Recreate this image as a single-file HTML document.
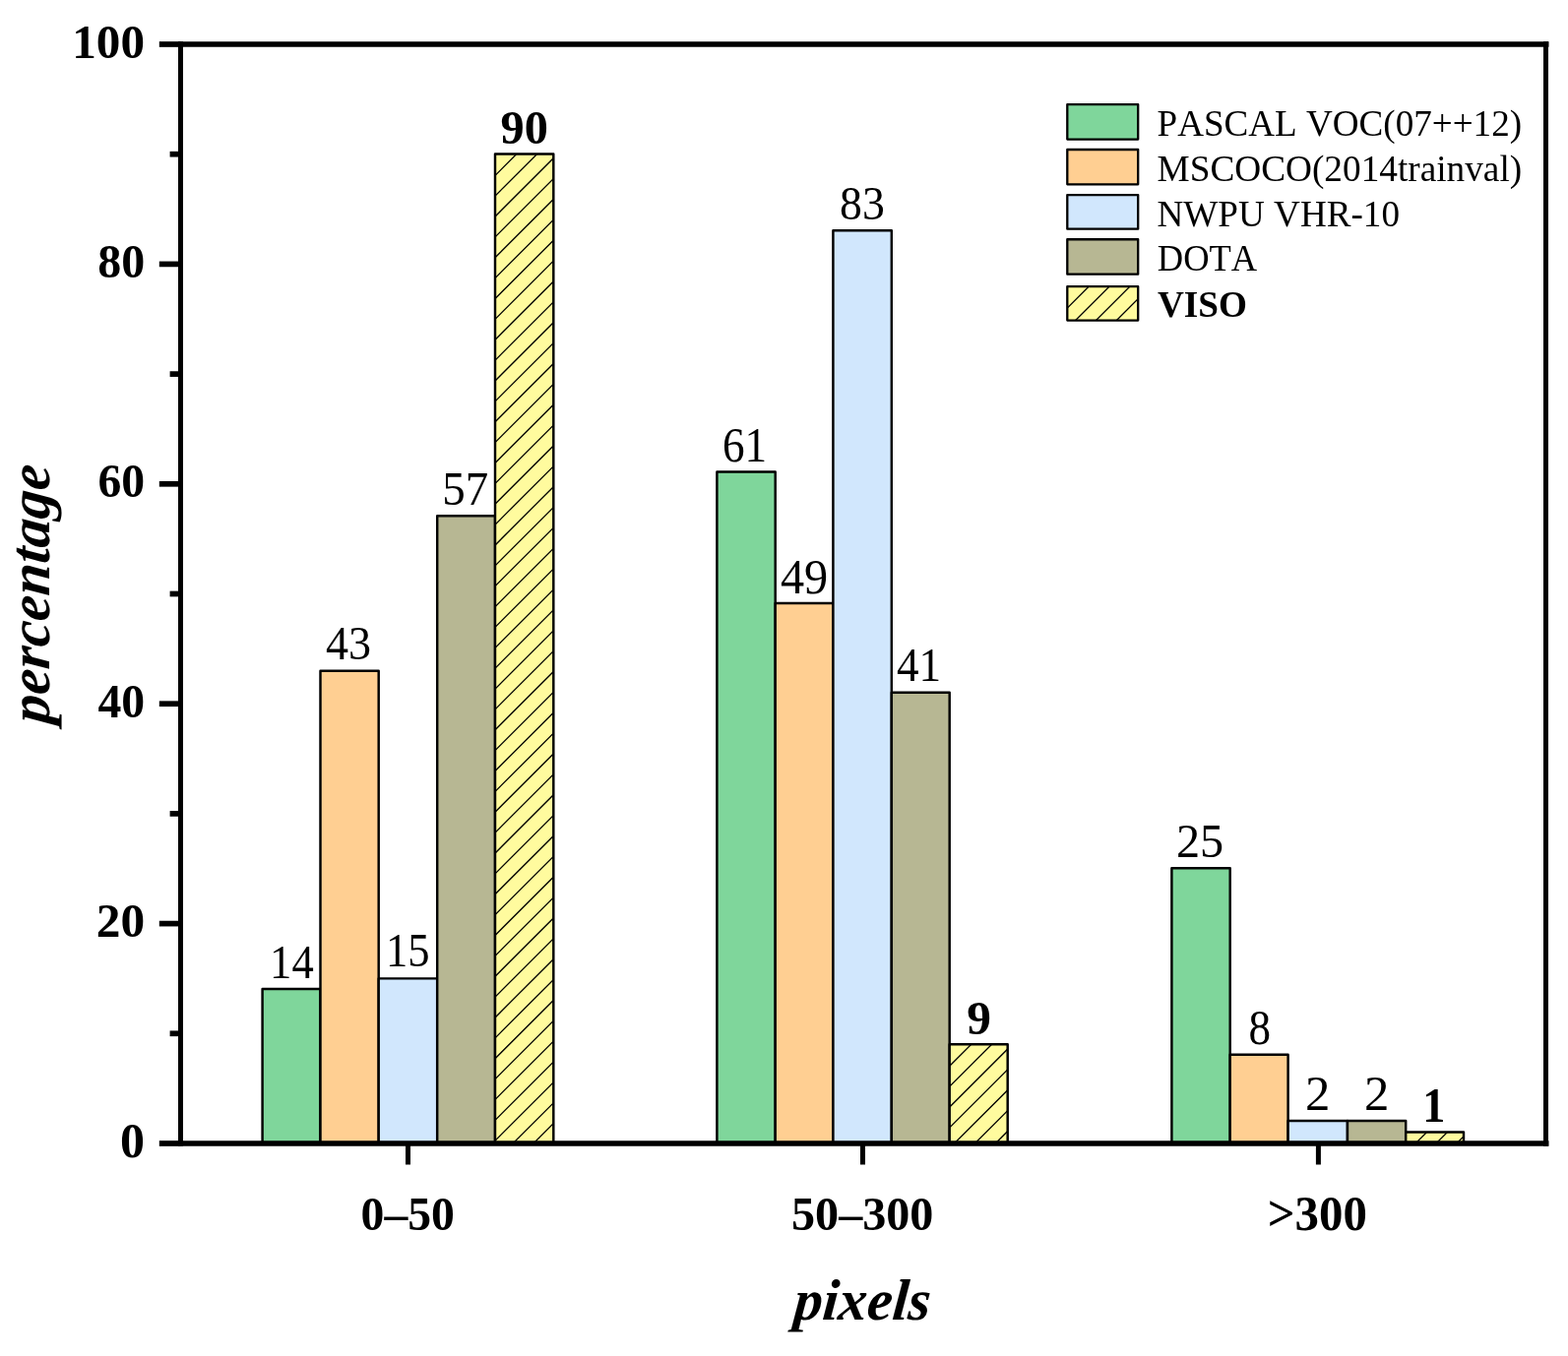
<!DOCTYPE html>
<html lang="en"><head><meta charset="utf-8"><title>Object size distribution</title>
<style>html,body{margin:0;padding:0;background:#fff}body{width:1593px;height:1378px;overflow:hidden}figure{margin:0;padding:0;width:1593px;height:1378px}svg{display:block}text{font-family:"Liberation Serif",serif;fill:#000;font-kerning:none}.b{font-weight:bold}.bi{font-weight:bold;font-style:italic}</style>
</head><body>
<figure>
<svg width="1593" height="1378" viewBox="0 0 1593 1378">
<rect width="1593" height="1378" fill="#fff"/>
<rect x="266.60" y="1004.97" width="58.90" height="157.03" fill="#7fd69b" stroke="#000" stroke-width="2.45" stroke-linejoin="round"/>
<rect x="325.50" y="681.80" width="59.20" height="480.20" fill="#ffcf92" stroke="#000" stroke-width="2.45" stroke-linejoin="round"/>
<rect x="384.70" y="994.35" width="59.50" height="167.65" fill="#d1e7fd" stroke="#000" stroke-width="2.45" stroke-linejoin="round"/>
<rect x="444.20" y="524.32" width="58.80" height="637.68" fill="#b7b793" stroke="#000" stroke-width="2.45" stroke-linejoin="round"/>
<clipPath id="hp1"><rect x="503.00" y="156.46" width="59.30" height="1005.54"/></clipPath>
<rect x="503.00" y="156.46" width="59.30" height="1005.54" fill="#fffb9e"/>
<path clip-path="url(#hp1)" d="M501.00,138.56L564.30,75.26M501.00,159.43L564.30,96.13M501.00,180.30L564.30,117.00M501.00,201.17L564.30,137.87M501.00,222.04L564.30,158.74M501.00,242.91L564.30,179.61M501.00,263.78L564.30,200.48M501.00,284.65L564.30,221.35M501.00,305.52L564.30,242.22M501.00,326.39L564.30,263.09M501.00,347.26L564.30,283.96M501.00,368.13L564.30,304.83M501.00,389.00L564.30,325.70M501.00,409.87L564.30,346.57M501.00,430.74L564.30,367.44M501.00,451.61L564.30,388.31M501.00,472.48L564.30,409.18M501.00,493.35L564.30,430.05M501.00,514.22L564.30,450.92M501.00,535.09L564.30,471.79M501.00,555.96L564.30,492.66M501.00,576.83L564.30,513.53M501.00,597.70L564.30,534.40M501.00,618.57L564.30,555.27M501.00,639.44L564.30,576.14M501.00,660.31L564.30,597.01M501.00,681.18L564.30,617.88M501.00,702.05L564.30,638.75M501.00,722.92L564.30,659.62M501.00,743.79L564.30,680.49M501.00,764.66L564.30,701.36M501.00,785.53L564.30,722.23M501.00,806.40L564.30,743.10M501.00,827.27L564.30,763.97M501.00,848.14L564.30,784.84M501.00,869.01L564.30,805.71M501.00,889.88L564.30,826.58M501.00,910.75L564.30,847.45M501.00,931.62L564.30,868.32M501.00,952.49L564.30,889.19M501.00,973.36L564.30,910.06M501.00,994.23L564.30,930.93M501.00,1015.10L564.30,951.80M501.00,1035.97L564.30,972.67M501.00,1056.84L564.30,993.54M501.00,1077.71L564.30,1014.41M501.00,1098.58L564.30,1035.28M501.00,1119.45L564.30,1056.15M501.00,1140.32L564.30,1077.02M501.00,1161.19L564.30,1097.89M501.00,1182.06L564.30,1118.76M501.00,1202.93L564.30,1139.63M501.00,1223.80L564.30,1160.50" stroke="#000" stroke-width="1.3" fill="none"/>
<rect x="503.00" y="156.46" width="59.30" height="1005.54" fill="none" stroke="#000" stroke-width="2.45" stroke-linejoin="round"/>
<rect x="728.40" y="479.51" width="59.30" height="682.49" fill="#7fd69b" stroke="#000" stroke-width="2.45" stroke-linejoin="round"/>
<rect x="787.70" y="612.99" width="58.70" height="549.01" fill="#ffcf92" stroke="#000" stroke-width="2.45" stroke-linejoin="round"/>
<rect x="846.40" y="234.20" width="59.40" height="927.80" fill="#d1e7fd" stroke="#000" stroke-width="2.45" stroke-linejoin="round"/>
<rect x="905.80" y="703.77" width="58.90" height="458.23" fill="#b7b793" stroke="#000" stroke-width="2.45" stroke-linejoin="round"/>
<clipPath id="hp2"><rect x="964.70" y="1061.30" width="59.00" height="100.70"/></clipPath>
<rect x="964.70" y="1061.30" width="59.00" height="100.70" fill="#fffb9e"/>
<path clip-path="url(#hp2)" d="M962.70,1043.56L1025.70,980.56M962.70,1064.43L1025.70,1001.43M962.70,1085.30L1025.70,1022.30M962.70,1106.17L1025.70,1043.17M962.70,1127.04L1025.70,1064.04M962.70,1147.91L1025.70,1084.91M962.70,1168.78L1025.70,1105.78M962.70,1189.65L1025.70,1126.65M962.70,1210.52L1025.70,1147.52M962.70,1231.39L1025.70,1168.39" stroke="#000" stroke-width="1.3" fill="none"/>
<rect x="964.70" y="1061.30" width="59.00" height="100.70" fill="none" stroke="#000" stroke-width="2.45" stroke-linejoin="round"/>
<rect x="1190.40" y="882.19" width="59.30" height="279.81" fill="#7fd69b" stroke="#000" stroke-width="2.45" stroke-linejoin="round"/>
<rect x="1249.70" y="1071.81" width="58.90" height="90.19" fill="#ffcf92" stroke="#000" stroke-width="2.45" stroke-linejoin="round"/>
<rect x="1308.60" y="1138.91" width="60.35" height="23.09" fill="#d1e7fd" stroke="#000" stroke-width="2.45" stroke-linejoin="round"/>
<rect x="1368.95" y="1139.00" width="59.25" height="23.00" fill="#b7b793" stroke="#000" stroke-width="2.45" stroke-linejoin="round"/>
<clipPath id="hp3"><rect x="1428.20" y="1150.44" width="58.80" height="11.56"/></clipPath>
<rect x="1428.20" y="1150.44" width="58.80" height="11.56" fill="#fffb9e"/>
<path clip-path="url(#hp3)" d="M1426.20,1132.13L1489.00,1069.33M1426.20,1153.00L1489.00,1090.20M1426.20,1173.87L1489.00,1111.07M1426.20,1194.74L1489.00,1131.94M1426.20,1215.61L1489.00,1152.81M1426.20,1236.48L1489.00,1173.68" stroke="#000" stroke-width="1.3" fill="none"/>
<rect x="1428.20" y="1150.44" width="58.80" height="11.56" fill="none" stroke="#000" stroke-width="2.45" stroke-linejoin="round"/>
<text id="d00" transform="translate(296.38,993.85) scale(0.9089,1)" font-size="49.11" text-anchor="middle">14</text>
<text id="d01" transform="translate(354.07,669.89) scale(0.9347,1)" font-size="49.31" text-anchor="middle">43</text>
<text id="d02" transform="translate(414.34,982.45) scale(0.9076,1)" font-size="49.14" text-anchor="middle">15</text>
<text id="d03" transform="translate(472.72,512.83) scale(0.9548,1)" font-size="49.15" text-anchor="middle">57</text>
<text id="d04" class="b" transform="translate(532.76,146.33) scale(0.9794,1)" font-size="49.38" text-anchor="middle">90</text>
<text id="d10" transform="translate(756.62,468.91) scale(0.886,1)" font-size="50.99" text-anchor="middle">61</text>
<text id="d11" transform="translate(817.04,602.54) scale(0.9667,1)" font-size="49.91" text-anchor="middle">49</text>
<text id="d12" transform="translate(875.99,223.10) scale(0.925,1)" font-size="49.49" text-anchor="middle">83</text>
<text id="d13" transform="translate(933.57,692.20) scale(0.9139,1)" font-size="49.47" text-anchor="middle">41</text>
<text id="d14" class="b" transform="translate(994.58,1050.65) scale(1.0015,1)" font-size="49.38" text-anchor="middle">9</text>
<text id="d20" transform="translate(1219.03,870.54) scale(0.9911,1)" font-size="48.72" text-anchor="middle">25</text>
<text id="d21" transform="translate(1279.66,1061.02) scale(0.9032,1)" font-size="49.85" text-anchor="middle">8</text>
<text id="d22" transform="translate(1338.77,1128.17) scale(1.02,1)" font-size="49.83" text-anchor="middle">2</text>
<text id="d23" transform="translate(1398.59,1128.01) scale(1.02,1)" font-size="49.83" text-anchor="middle">2</text>
<text id="d24" class="b" transform="translate(1456.70,1139.84) scale(0.9209,1)" font-size="50.14" text-anchor="middle">1</text>
<g stroke="#000" fill="none">
<line x1="183.50" y1="42.15" x2="183.50" y2="1164.85" stroke-width="5.0"/>
<line x1="1570.50" y1="42.15" x2="1570.50" y2="1164.85" stroke-width="5.0"/>
<line x1="181.00" y1="45.00" x2="1573.50" y2="45.00" stroke-width="5.7"/>
<line x1="181.00" y1="1162.00" x2="1573.50" y2="1162.00" stroke-width="5.7"/>
<line x1="161.8" y1="1162.00" x2="183.50" y2="1162.00" stroke-width="5.7"/>
<line x1="172.6" y1="1050.30" x2="183.50" y2="1050.30" stroke-width="5.7"/>
<line x1="161.8" y1="938.60" x2="183.50" y2="938.60" stroke-width="5.7"/>
<line x1="172.6" y1="826.90" x2="183.50" y2="826.90" stroke-width="5.7"/>
<line x1="161.8" y1="715.20" x2="183.50" y2="715.20" stroke-width="5.7"/>
<line x1="172.6" y1="603.50" x2="183.50" y2="603.50" stroke-width="5.7"/>
<line x1="161.8" y1="491.80" x2="183.50" y2="491.80" stroke-width="5.7"/>
<line x1="172.6" y1="380.10" x2="183.50" y2="380.10" stroke-width="5.7"/>
<line x1="161.8" y1="268.40" x2="183.50" y2="268.40" stroke-width="5.7"/>
<line x1="172.6" y1="156.70" x2="183.50" y2="156.70" stroke-width="5.7"/>
<line x1="161.8" y1="45.00" x2="183.50" y2="45.00" stroke-width="5.7"/>
<line x1="414.50" y1="1162.00" x2="414.50" y2="1183.5" stroke-width="5.0"/>
<line x1="876.50" y1="1162.00" x2="876.50" y2="1183.5" stroke-width="5.0"/>
<line x1="1339.40" y1="1162.00" x2="1339.40" y2="1183.5" stroke-width="5.0"/>
</g>
<text id="t0" class="b" transform="translate(147.08,1176.47) scale(0.9944,1)" font-size="50.29" text-anchor="end">0</text>
<text id="t20" class="b" transform="translate(147.11,952.32) scale(1.0117,1)" font-size="48.79" text-anchor="end">20</text>
<text id="t40" class="b" transform="translate(147.11,728.92) scale(0.9923,1)" font-size="48.1" text-anchor="end">40</text>
<text id="t60" class="b" transform="translate(147.11,505.13) scale(0.9697,1)" font-size="49.21" text-anchor="end">60</text>
<text id="t80" class="b" transform="translate(147.24,281.62) scale(0.9821,1)" font-size="48.85" text-anchor="end">80</text>
<text id="t100" class="b" transform="translate(146.99,58.69) scale(0.9981,1)" font-size="49.26" text-anchor="end">100</text>
<text id="c0" class="b" transform="translate(414.24,1250.36) scale(0.9647,1)" font-size="49.47" text-anchor="middle">0–50</text>
<text id="c1" class="b" transform="translate(876.24,1250.03) scale(0.9761,1)" font-size="49.32" text-anchor="middle">50–300</text>
<text id="c2" class="b" transform="translate(1338.26,1250.49) scale(0.9828,1)" font-size="49.72" text-anchor="middle">>300</text>
<text id="xt" class="bi" transform="translate(874.80,1341.00) skewX(-5) scale(0.985,1)" font-size="59" text-anchor="middle">pixels</text>
<text id="yt" class="bi" transform="translate(50.20,604.70) rotate(-90) skewX(-5) scale(0.991,1)" font-size="59" text-anchor="middle">percentage</text>
<rect x="1084.3" y="106.19" width="71.9" height="35.37" fill="#7fd69b" stroke="#000" stroke-width="2.3" stroke-linejoin="round"/>
<text id="l0" transform="translate(1175.52,138.06) scale(0.9817,1)" font-size="37.8">PASCAL VOC(07++12)</text>
<rect x="1084.3" y="152.02" width="71.9" height="35.28" fill="#ffcf92" stroke="#000" stroke-width="2.3" stroke-linejoin="round"/>
<text id="l1" transform="translate(1175.52,183.89) scale(0.9864,1)" font-size="37.8">MSCOCO(2014trainval)</text>
<rect x="1084.3" y="198.08" width="71.9" height="34.61" fill="#d1e7fd" stroke="#000" stroke-width="2.3" stroke-linejoin="round"/>
<text id="l2" transform="translate(1175.52,229.59) scale(0.9824,1)" font-size="37.8">NWPU VHR-10</text>
<rect x="1084.3" y="243.27" width="71.9" height="35.38" fill="#b7b793" stroke="#000" stroke-width="2.3" stroke-linejoin="round"/>
<text id="l3" transform="translate(1175.77,274.86) scale(0.9662,1)" font-size="37.8">DOTA</text>
<clipPath id="hp4"><rect x="1084.30" y="291.17" width="71.90" height="34.38"/></clipPath>
<rect x="1084.30" y="291.17" width="71.90" height="34.38" fill="#fffb9e"/>
<path clip-path="url(#hp4)" d="M1082.30,273.26L1158.20,197.36M1082.30,294.13L1158.20,218.23M1082.30,315.00L1158.20,239.10M1082.30,335.87L1158.20,259.97M1082.30,356.74L1158.20,280.84M1082.30,377.61L1158.20,301.71M1082.30,398.48L1158.20,322.58M1082.30,419.35L1158.20,343.45" stroke="#000" stroke-width="1.3" fill="none"/>
<rect x="1084.30" y="291.17" width="71.90" height="34.38" fill="none" stroke="#000" stroke-width="2.3" stroke-linejoin="round"/>
<text id="l4" class="b" transform="translate(1176.00,322.03) scale(0.9849,1)" font-size="37.8">VISO</text>
</svg>
</figure>
</body></html>
